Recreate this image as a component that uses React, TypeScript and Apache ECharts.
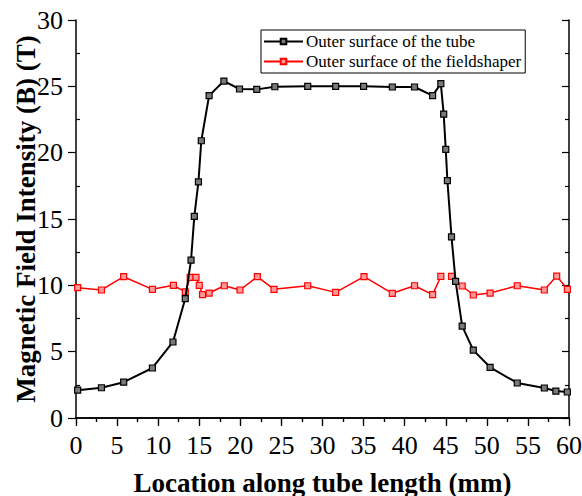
import React, { useEffect, useRef } from "react";
import * as echarts from "echarts";

const tubeX = [0.2, 3.1, 5.8, 9.3, 11.8, 13.3, 14.0, 14.4, 14.9, 15.25, 16.2, 18.0, 19.9, 22.0, 24.2, 28.2, 31.6, 35.0, 38.5, 41.2, 43.4, 44.4, 44.75, 45.0, 45.2, 45.7, 46.2, 47.0, 48.35, 50.4, 53.7, 57.0, 58.4, 59.8];
const tubeY = [2.1, 2.28, 2.7, 3.77, 5.73, 9.0, 11.9, 15.2, 17.8, 20.9, 24.3, 25.4, 24.8, 24.77, 24.97, 25.0, 25.0, 25.0, 24.95, 24.95, 24.3, 25.2, 22.9, 20.25, 17.9, 13.66, 10.3, 6.93, 5.12, 3.82, 2.64, 2.26, 2.03, 1.96];

const shaperX = [0.2, 3.1, 5.8, 9.3, 11.85, 13.3, 13.9, 14.6, 15.0, 15.4, 16.2, 18.05, 19.96, 22.07, 24.1, 28.2, 31.6, 35.05, 38.5, 41.2, 43.4, 44.4, 45.0, 45.7, 47.0, 48.35, 50.4, 53.7, 57.0, 58.5, 59.8];
const shaperY: (number | null)[] = [9.82, 9.65, 10.65, 9.7, 10.0, 9.5, 10.6, 10.6, 10.0, 9.3, 9.42, 9.97, 9.65, 10.65, 9.7, 9.97, 9.47, 10.65, 9.4, 9.97, 9.3, 10.67, null, 10.67, 9.95, 9.27, 9.42, 9.97, 9.65, 10.7, 9.7];

const seriesNames = ["Outer surface of the tube", "Outer surface of the fieldshaper"];
const xTitle = "Location along tube length (mm)";
const yTitle = "Magnetic Field Intensity (B) (T)";

const FONT = "Liberation Serif";

export default function App() {
  const ref = useRef<HTMLDivElement>(null);
  useEffect(() => {
    if (!ref.current) return;
    const chart = echarts.init(ref.current, undefined, { renderer: "svg" });
    const axisLine = { show: true, lineStyle: { color: "#000", width: 1.5 } };
    const baseX = { type: "value", min: 0, max: 60, interval: 5, splitLine: { show: false } };
    const baseY = { type: "value", min: 0, max: 30, interval: 5, splitLine: { show: false } };
    chart.setOption({
      animation: false,
      backgroundColor: "#fff",
      grid: { left: 76, right: 13, top: 20, bottom: 78, containLabel: false, outerBoundsMode: "none" },
      legend: {
        orient: "vertical",
        left: 261,
        top: 30,
        backgroundColor: "#fff",
        borderColor: "#000",
        borderWidth: 1,
        padding: [3, 4, 3, 2],
        itemGap: 3,
        itemWidth: 39,
        itemHeight: 7,
        textStyle: { fontFamily: FONT, fontSize: 17, color: "#000", padding: [0, 0, 0, -2] },
        data: seriesNames,
      },
      xAxis: [
        {
          ...baseX,
          position: "bottom",
          axisLine,
          axisTick: { show: true, length: 8, lineStyle: { color: "#000", width: 1.2 } },
          minorTick: { show: true, splitNumber: 2, length: 4, lineStyle: { color: "#000", width: 1.2 } },
          axisLabel: { fontFamily: FONT, fontSize: 26, color: "#000", margin: 14 },
          name: xTitle,
          nameLocation: "middle",
          nameGap: 51,
          nameMoveOverlap: false,
          nameTextStyle: { fontFamily: FONT, fontSize: 27, fontWeight: "bold", color: "#000" },
        },
        {
          ...baseX,
          position: "top",
          axisLine,
          axisTick: { show: true, inside: true, length: 7, lineStyle: { color: "#000", width: 1.2 } },
          minorTick: { show: true, splitNumber: 2, length: 4, lineStyle: { color: "#000", width: 1.2 } },
          axisLabel: { show: false },
        },
      ],
      yAxis: [
        {
          ...baseY,
          position: "left",
          axisLine,
          axisTick: { show: true, length: 8, lineStyle: { color: "#000", width: 1.2 } },
          axisLabel: { fontFamily: FONT, fontSize: 26, color: "#000", margin: 13 },
          name: yTitle,
          nameLocation: "middle",
          nameGap: 37,
          nameMoveOverlap: false,
          nameTextStyle: { fontFamily: FONT, fontSize: 27, fontWeight: "bold", color: "#000" },
        },
        {
          ...baseY,
          position: "left",
          axisLine: { show: false },
          axisTick: { show: false, inside: true },
          minorTick: { show: true, splitNumber: 2, length: 4, lineStyle: { color: "#000", width: 1.2 } },
          axisLabel: { show: false },
        },
        {
          ...baseY,
          position: "right",
          axisLine,
          axisTick: { show: true, inside: true, length: 7, lineStyle: { color: "#000", width: 1.2 } },
          minorTick: { show: true, splitNumber: 2, length: 4, lineStyle: { color: "#000", width: 1.2 } },
          axisLabel: { show: false },
        },
      ],
      series: [
        {
          name: seriesNames[0],
          type: "line",
          xAxisIndex: 0,
          yAxisIndex: 0,
          data: tubeX.map((x, i) => [x, tubeY[i]]),
          symbol: "rect",
          symbolSize: 6,
          showAllSymbol: true,
          lineStyle: { color: "#000", width: 2 },
          itemStyle: { color: "#7a7a7a", borderColor: "#000", borderWidth: 1.2 },
          z: 3,
        },
        {
          name: seriesNames[1],
          type: "line",
          xAxisIndex: 0,
          yAxisIndex: 0,
          data: shaperX.map((x, i) => [x, shaperY[i]]),
          connectNulls: false,
          symbol: "rect",
          symbolSize: 6,
          showAllSymbol: true,
          lineStyle: { color: "#ff0000", width: 1.5 },
          itemStyle: { color: "#ff9a9a", borderColor: "#ff0000", borderWidth: 1.2 },
          z: 2,
        },
      ],
    });
    return () => chart.dispose();
  }, []);
  return <div ref={ref} style={{ width: 582, height: 496, position: "absolute", left: 0, top: 0 }} />;
}
